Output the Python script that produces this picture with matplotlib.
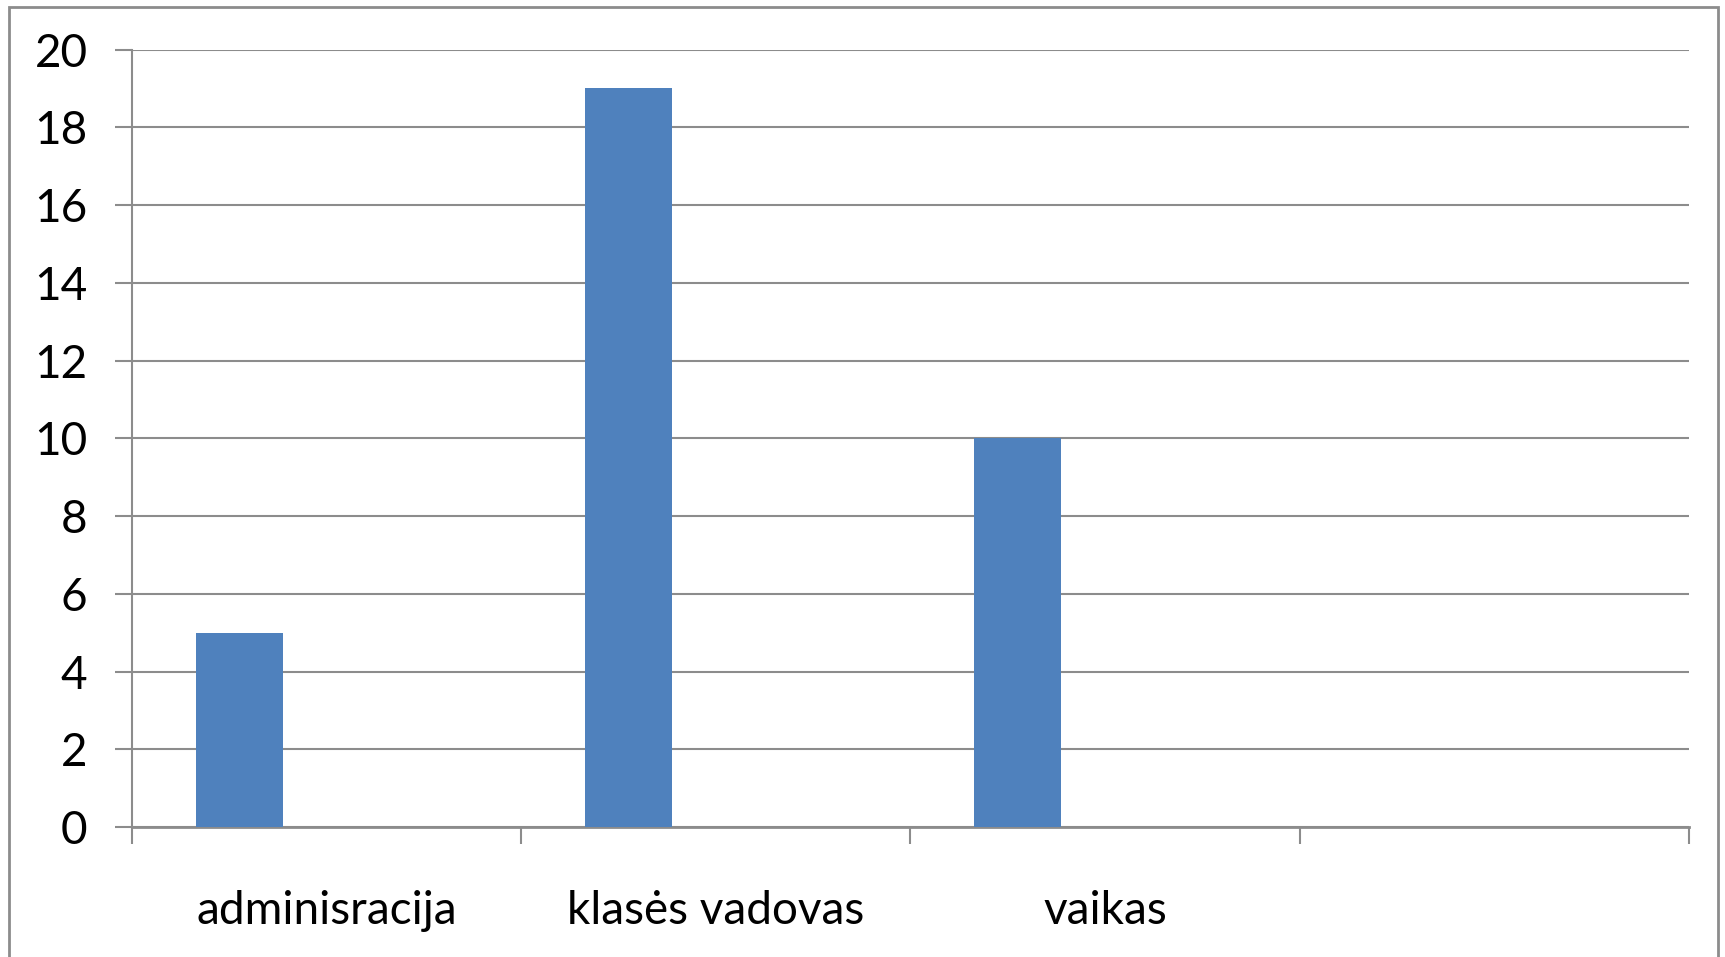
import matplotlib
matplotlib.use("Agg")
import matplotlib.pyplot as plt
from matplotlib.patches import Rectangle

# data
categories = ["adminisracija", "klasės vadovas", "vaikas", ""]
values = [5, 19, 10, 0]
y_ticks = [0, 2, 4, 6, 8, 10, 12, 14, 16, 18, 20]

BAR_COLOR = "#4F81BD"
GRID_COLOR = "#8C8C8C"

plt.rcParams['font.family'] = ['Lato', 'DejaVu Sans']

fig = plt.figure(figsize=(17.25, 9.57), dpi=100)
ax = fig.add_axes([0.0765, 0.1358, 0.9025, 0.8124])

pos = list(range(len(categories)))
# bars sit in the left part of each category slot
offset = -0.224
ax.bar([p + offset for p, v in zip(pos, values) if v > 0],
       [v for v in values if v > 0],
       width=0.223, color=BAR_COLOR, zorder=3)

ax.set_xlim(-0.5, len(categories) - 0.5)
ax.set_ylim(0, 20)
ax.set_yticks(y_ticks)
ax.set_yticklabels([str(t) for t in y_ticks], fontsize=33)
ax.yaxis.grid(True, color=GRID_COLOR, linewidth=1.5, zorder=0)
ax.set_axisbelow(True)

# category labels centered, tick marks at slot boundaries
ax.set_xticks(pos)
ax.set_xticklabels(categories, fontsize=33)
ax.tick_params(axis='x', which='major', length=0, pad=45)
ax.set_xticks([p - 0.5 for p in pos] + [len(categories) - 0.5], minor=True)
ax.tick_params(axis='x', which='minor', length=12, width=1.5, color=GRID_COLOR)
ax.tick_params(axis='y', length=12, width=1.5, color=GRID_COLOR, pad=20)

for s in ['top', 'right']:
    ax.spines[s].set_visible(False)
ax.spines['left'].set_color(GRID_COLOR)
ax.spines['left'].set_linewidth(1.5)
ax.spines['bottom'].set_color(GRID_COLOR)
ax.spines['bottom'].set_linewidth(2)

# outer chart frame (open at the bottom)
frame = Rectangle((9 / 1725, -0.2), (1718 - 9) / 1725, 1.2 - 7 / 957,
                  transform=fig.transFigure, fill=False,
                  edgecolor="#8C8C8C", linewidth=2, clip_on=False)
fig.patches.append(frame)

fig.savefig("out.png", dpi=100, facecolor="white")
